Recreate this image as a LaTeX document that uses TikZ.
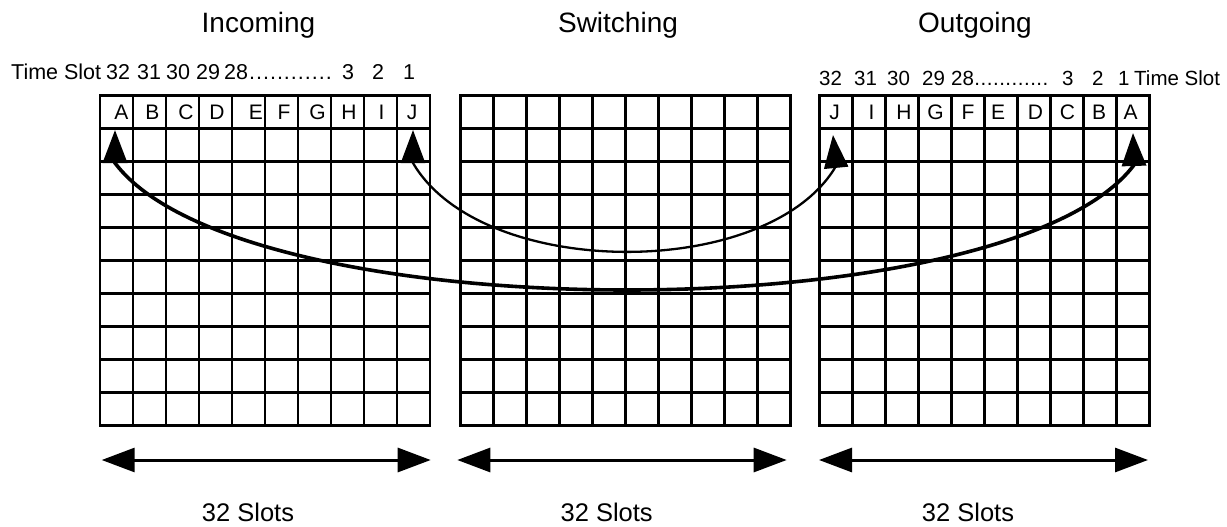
\documentclass[tikz,border=0pt]{standalone}
\usepackage{fontspec}
\setmainfont{Liberation Sans}
\usetikzlibrary{arrows.meta}
\tikzset{
  gridline/.style={line width=2.6pt, line cap=rect},
  title/.style={inner sep=0pt, anchor=base, font=\fontsize{28}{30}\selectfont},
  slotlbl/.style={inner sep=0pt, anchor=base west, font=\fontsize{21.5}{24}\selectfont},
  slotlblr/.style={inner sep=0pt, anchor=base west, font=\fontsize{20.5}{24}\selectfont},
  cell/.style={inner sep=0pt, anchor=base, font=\fontsize{21}{24}\selectfont},
  span/.style={line width=3pt, {Triangle[length=33pt,width=24pt]}-{Triangle[length=33pt,width=24pt]}},
  thicklink/.style={line width=3.6pt, {Triangle[length=33pt,width=24pt]}-{Triangle[length=33pt,width=24pt]}},
  thinlink/.style={line width=2.3pt, {Triangle[length=33pt,width=24pt]}-{Triangle[length=33pt,width=24pt]}},
  count/.style={inner sep=0pt, anchor=base, font=\fontsize{25.5}{28}\selectfont}
}
\begin{document}
\begin{tikzpicture}[x=1pt,y=-1pt]
\useasboundingbox (0,0) rectangle (1227,527);
\fill[white] (0,0) rectangle (1227,527);

% titles
\node[title] (tin) at (258.5,33) {Incoming};
\node[title] (tsw) at (618,33) {Switching};
\node[title] (tout) at (975,33) {Outgoing};

% grids
\foreach \gx in {100,460.7,819.3} {
  \draw[gridline] (\gx,95.5) rectangle ++(330,330);
  \foreach \i in {1,...,9} {
    \draw[gridline] (\gx+33*\i,95.5) -- ++(0,330);
    \draw[gridline] (\gx,95.5+33*\i) -- ++(330,0);
  }
}

% time slot labels, incoming
\node[slotlbl] (lts) at (11,80) {Time Slot};
\node[slotlbl] (l32) at (106,80) {32};
\node[slotlbl] (l31) at (137,80) {31};
\node[slotlbl] (l30) at (166,80) {30};
\node[slotlbl] (l29) at (196,80) {29};
\node[slotlbl] (l28) at (224,80) {28\kern1pt.\kern1pt.\kern1pt.\kern1pt.\kern1pt.\kern1pt.\kern1pt.\kern1pt.\kern1pt.\kern1pt.\kern1pt.\kern1pt.};
\node[slotlbl] (l3) at (342,80) {3};
\node[slotlbl] (l2) at (372,80) {2};
\node[slotlbl] (l1) at (403,80) {1};

% time slot labels, outgoing
\node[slotlblr] (r32) at (819,85) {32};
\node[slotlblr] (r31) at (854,85) {31};
\node[slotlblr] (r30) at (887,85) {30};
\node[slotlblr] (r29) at (922,85) {29};
\node[slotlblr] (r28) at (951,85) {28\kern0.5pt.\kern0.5pt.\kern0.5pt.\kern0.5pt.\kern0.5pt.\kern0.5pt.\kern0.5pt.\kern0.5pt.\kern0.5pt.\kern0.5pt.\kern0.5pt.\kern0.5pt.};
\node[slotlblr] (r3) at (1062,85) {3};
\node[slotlblr] (r2) at (1092,85) {2};
\node[slotlblr] (r1) at (1118,85) {1};
\node[slotlblr] (rts) at (1134,85) {Time Slot};

% cell letters
\foreach \l/\x in {A/121.5,B/152.5,C/186,D/217,E/256,F/284,G/317.5,H/349,I/381.5,J/412}
  \node[cell] (in\l) at (\x,120) {\l};
\foreach \l/\x in {J/834.5,I/871.5,H/904,G/935.5,F/968,E/998,D/1035.5,C/1067.5,B/1099,A/1130.5}
  \node[cell] (out\l) at (\x,120) {\l};

% connector end points
\coordinate (tipInA) at (115,130);
\coordinate (tipOutA) at (1133,133);
\coordinate (tipInJ) at (413,130);
\coordinate (tipOutJ) at (833,135);

\draw[thicklink] (tipInA) -- (115,163) .. controls (242,332) and (1008,332) .. (1134,165) -- (tipOutA);
\draw[thinlink] (tipInJ) -- (413,163) .. controls (482,281) and (769,281) .. (836,166) -- (tipOutJ);

% span arrows
\coordinate (s1a) at (101.7,460); \coordinate (s1b) at (430.7,460);
\coordinate (s2a) at (457.3,460); \coordinate (s2b) at (786.7,460);
\coordinate (s3a) at (819,460);   \coordinate (s3b) at (1148,460);
\draw[span] (s1a) -- (s1b);
\draw[span] (s2a) -- (s2b);
\draw[span] (s3a) -- (s3b);

\node[count] (c1) at (248,521) {32 Slots};
\node[count] (c2) at (606.7,521) {32 Slots};
\node[count] (c3) at (968,521) {32 Slots};
\end{tikzpicture}
\end{document}
